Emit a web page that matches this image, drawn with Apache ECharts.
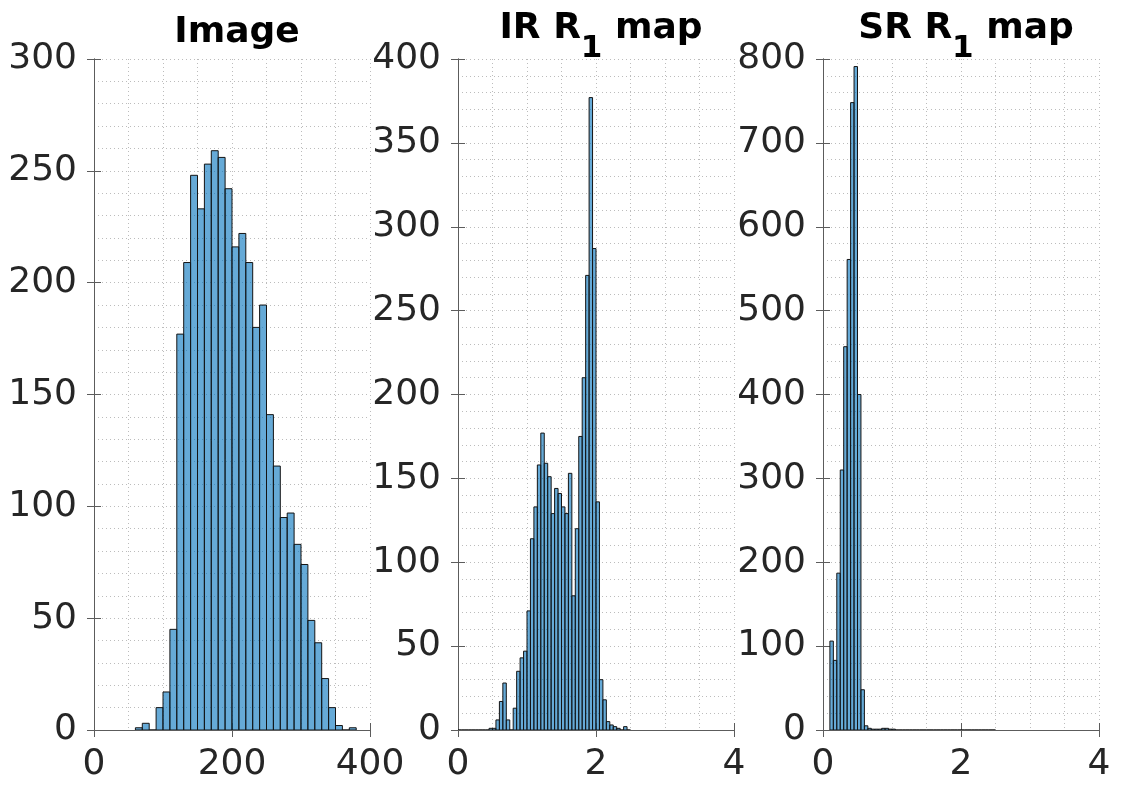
<!DOCTYPE html>
<html>
<head>
<meta charset="utf-8">
<title>Image / IR R1 / SR R1 histograms</title>
<script src="https://cdn.jsdelivr.net/npm/echarts@6/dist/echarts.min.js"></script>
<style>
    html, body { margin: 0; padding: 0; background: #fff; }
    #main { width: 1124px; height: 785px; }
</style>
</head>
<body>
<div id="main"></div>
<script>
// histogram counts, one value per bin
var imgBinStart = 60, imgBinWidth = 10;
var imgCounts = [1, 3, 0, 10, 17, 45, 177, 209, 248, 233, 253, 259, 256, 242, 216, 222,
    209, 180, 190, 141, 118, 95, 97, 83, 74, 49, 39, 23, 10, 2, 0, 1];

var irBinStart = 0, irBinWidth = 0.05;
var irCounts = [0, 0, 0, 0, 0, 0, 0, 0, 0, 1, 1, 6, 17, 28, 6, 0, 13, 35, 43, 47,
    71, 114, 133, 158, 177, 159, 151, 129, 144, 141, 133, 129, 153, 80, 120, 175,
    210, 271, 377, 287, 136, 30, 18, 5, 3, 2, 1, 0, 2, 0];

var srBinStart = 0.1, srBinWidth = 0.05;
var srCounts = [106, 83, 187, 310, 457, 561, 748, 791, 400, 48, 5, 2, 1, 1, 1, 2, 2, 1, 1, 0,
    0, 0, 0, 0, 0, 0, 0, 0, 0, 0, 0, 0, 0, 0, 0, 0, 0, 0, 0, 0,
    0, 0, 0, 0, 0, 0, 0, 0];

// axis ranges / ticks per panel
var xMax = [400, 4, 4];
var xTick = [200, 2, 2];
var yMax = [300, 400, 800];
var yTick = [50, 50, 100];

var titleText = ['{t|Image}', '{t|IR R}{s|1}{t| map}', '{t|SR R}{s|1}{t| map}'];

(function () {
    var myChart = echarts.init(document.getElementById('main'));
    var font = 'DejaVu Sans';
    var ink = '#262626';
    var boxColor = '#5c5c5c';
    var gridDots = { color: '#bcbcbc', width: 1, type: [1, 3] };

    var panels = [
        { start: imgBinStart, width: imgBinWidth, counts: imgCounts },
        { start: irBinStart, width: irBinWidth, counts: irCounts },
        { start: srBinStart, width: srBinWidth, counts: srCounts }
    ];
    var lefts = [94, 458, 823];

    var grid = [], xAxis = [], yAxis = [], series = [], title = [];

    panels.forEach(function (p, i) {
        grid.push({ left: lefts[i], top: 59, width: 276, height: 671 });

        title.push({
            text: titleText[i],
            left: lefts[i] + 138,
            top: i === 0 ? 10 : 6,
            textAlign: 'center',
            textStyle: {
                rich: {
                    t: { fontFamily: font, fontSize: 36, fontWeight: 'bold', color: '#000', lineHeight: 40, verticalAlign: 'top' },
                    s: { fontFamily: font, fontSize: 31, fontWeight: 'bold', color: '#000', lineHeight: 30, padding: [22, 0, 0, 0], verticalAlign: 'top' }
                }
            }
        });

        // bottom / left axes carry labels and grid
        xAxis.push({
            type: 'value', gridIndex: i, position: 'bottom',
            min: 0, max: xMax[i], interval: xTick[i],
            axisLine: { show: true, lineStyle: { color: boxColor, width: 1 } },
            axisTick: { show: true, inside: true, length: 7, lineStyle: { color: boxColor } },
            axisLabel: { show: true, margin: 17, color: ink, fontSize: 36, fontFamily: font },
            splitLine: { show: true, lineStyle: gridDots },
            minorTick: { show: false, splitNumber: 4 },
            minorSplitLine: { show: true, lineStyle: gridDots }
        });
        // top mirror axis for the box
        xAxis.push({
            type: 'value', gridIndex: i, position: 'top',
            min: 0, max: xMax[i], interval: xTick[i],
            axisLine: { show: true, lineStyle: { color: boxColor, width: 1 } },
            axisTick: { show: true, inside: true, length: 7, lineStyle: { color: boxColor } },
            axisLabel: { show: false },
            splitLine: { show: false }
        });
        yAxis.push({
            type: 'value', gridIndex: i, position: 'left',
            min: 0, max: yMax[i], interval: yTick[i],
            axisLine: { show: true, lineStyle: { color: boxColor, width: 1 } },
            axisTick: { show: true, inside: true, length: 7, lineStyle: { color: boxColor } },
            axisLabel: { show: true, margin: 17, color: ink, fontSize: 36, fontFamily: font },
            splitLine: { show: true, lineStyle: gridDots },
            minorTick: { show: false, splitNumber: 5 },
            minorSplitLine: { show: true, lineStyle: gridDots }
        });
        yAxis.push({
            type: 'value', gridIndex: i, position: 'right',
            min: 0, max: yMax[i], interval: yTick[i],
            axisLine: { show: true, lineStyle: { color: boxColor, width: 1 } },
            axisTick: { show: true, inside: true, length: 7, lineStyle: { color: boxColor } },
            axisLabel: { show: false },
            splitLine: { show: false }
        });

        // bins as [left edge, right edge, count]
        var data = p.counts.map(function (c, k) {
            var x0 = p.start + k * p.width;
            return [x0, x0 + p.width, c];
        });

        series.push({
            type: 'custom',
            xAxisIndex: 2 * i,
            yAxisIndex: 2 * i,
            encode: { x: [0, 1], y: 2 },
            clip: true,
            data: data,
            renderItem: function (params, api) {
                var topLeft = api.coord([api.value(0), api.value(2)]);
                var bottomRight = api.coord([api.value(1), 0]);
                return {
                    type: 'rect',
                    shape: {
                        x: topLeft[0],
                        y: topLeft[1],
                        width: bottomRight[0] - topLeft[0],
                        height: bottomRight[1] - topLeft[1]
                    },
                    style: {
                        fill: 'rgba(0,114,189,0.6)',
                        stroke: '#141414',
                        lineWidth: 1
                    }
                };
            }
        });
    });

    var option = {
        backgroundColor: '#fff',
        animation: false,
        title: title,
        grid: grid,
        xAxis: xAxis,
        yAxis: yAxis,
        series: series
    };
    myChart.setOption(option);
}());
</script>
</body>
</html>
